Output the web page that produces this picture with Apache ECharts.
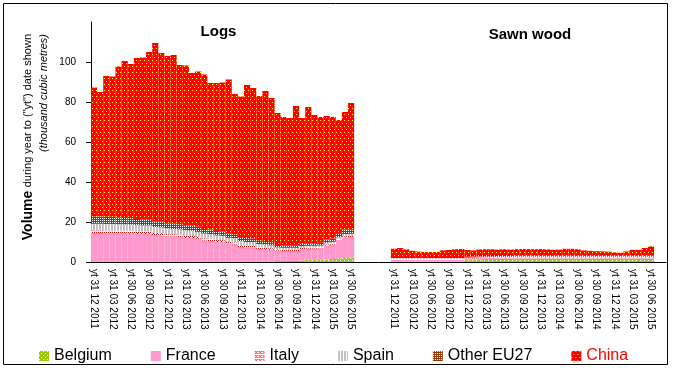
<!DOCTYPE html>
<html><head><meta charset="utf-8">
<script src="https://cdn.jsdelivr.net/npm/echarts@6/dist/echarts.min.js"></script>
<style>html,body{margin:0;padding:0;background:#fff}#c{width:673px;height:370px}</style>
</head><body><div id="c"></div>
<script>
// quarter tick labels (shown every 3rd month)
const tickLabels = ['31 12 2011','31 03 2012','30 06 2012','30 09 2012','31 12 2012','31 03 2013','30 06 2013','30 09 2013','31 12 2013','31 03 2014','30 06 2014','30 09 2014','31 12 2014','31 03 2015','30 06 2015'];
const seriesNames = ['Belgium','France','Italy','Spain','Other EU27','China'];

// Logs (thousand m3), monthly yt values Dec 2011 .. Jun 2015
const logsBelgium = [0.3,0.3,0.3,0.3,0.3,0.3,0.3,0.3,0.3,0.3, 0.3,0.3,0.3,0.3,0.3,0.3,0.3,0.3,0.3,0.3, 0.3,0.3,0.3,0.3,0.3,0.3,0.3,0.3,0.3,0.3, 0.5,0.5,0.5,0.5,0.8,1,1,1,1.2,1.5, 1.8,2,2.2];
const logsFrance = [14.2,14.2,14,14,14,14,14,13.8,13.8,13.8, 13.2,13,12.5,12.5,12.3,11.8,11.6,11.4,10.5,10.2, 9.8,9.6,8.8,8.5,7.2,7,7,6.2,6,5.8, 5.2,5,5,5,5.6,5.7,5.7,5.8,7,7.2, 9.2,10.3,10.3];
const logsItaly = [1.3,1.3,1.3,1.3,1.3,1.2,1.2,1.2,1.2,1.2, 1.2,1.2,1.1,1.1,1.1,1.1,1.1,1.0,1.0,1.0, 1.0,1.0,1.0,1.0,0.9,0.9,0.9,0.9,0.8,0.8, 0.6,0.6,0.6,0.6,0.6,0.6,0.6,0.6,0.6,0.6, 0.6,0.6,0.6];
const logsSpain = [3.3,3.3,3.3,3.3,3.2,3.2,3.2,3.2,3.0,3.0, 2.8,2.8,2.8,2.6,2.6,2.6,2.6,2.4,2.4,2.4, 2.2,2.2,2.0,2.0,2.0,1.8,1.8,1.6,1.6,1.4, 1.0,1.0,1.0,1.0,0.8,0.8,0.8,0.8,0.8,0.8, 0.8,1.0,1.0];
const logsOther = [3.7,3.7,3.7,3.7,3.3,3.3,3.3,3.0,3.0,3.0, 2.8,2.8,2.6,2.6,2.6,2.5,2.5,2.5,2.3,2.3, 2.2,2.2,2.2,2.0,2.0,2.0,1.8,1.8,1.8,1.6, 1.2,1.2,1.2,1.2,1.3,1.3,1.3,1.4,1.6,1.6, 2,2.3,2.3];
const logsChina = [64.4,62.2,70.4,70.1,75.7,78.5,77.0,80.5,81.0,83.7, 89.2,84.4,83.7,84.4,79.6,79.9,76.4,77.7,77.3,73.3, 74.0,74.4,77.0,70.2,70.4,76.5,75.2,72.2,75.0,72.1, 66.0,64.2,63.7,69.7,62.9,68.1,64.1,62.9,61.8,60.8, 56.6,58.8,63.1];

// Sawn wood (thousand m3)
const sawnBelgium = [0.3,0.3,0.3,0.3,0.3,0.3,0.3,0.3,0.3,0.3, 0.3,0.3,1.2,1.3,1.4,1.5,1.5,1.6,1.6,1.6, 1.7,1.7,1.7,1.7,1.7,1.7,1.7,1.7,1.7,1.7, 1.7,1.7,1.7,1.7,1.7,1.7,1.7,1.7,1.7,1.7, 1.7,1.7,1.7];
const sawnFrance = [0.8,0.8,0.8,0.8,0.8,0.8,0.8,0.8,0.8,0.8, 0.8,0.8,0.5,0.5,0.5,0.5,0.5,0.5,0.5,0.5, 0.5,0.5,0.5,0.5,0.5,0.5,0.5,0.5,0.5,0.5, 0.5,0.5,0.5,0.5,0.5,0.5,0.5,0.5,0.5,0.5, 0.5,0.5,0.5];
const sawnItaly = [0.3,0.3,0.3,0.3,0.3,0.3,0.3,0.3,0.3,0.3, 0.3,0.3,0.2,0.2,0.2,0.2,0.2,0.2,0.2,0.2, 0.2,0.2,0.2,0.2,0.2,0.2,0.2,0.2,0.2,0.2, 0.2,0.2,0.2,0.2,0.2,0.2,0.2,0.2,0.2,0.2, 0.2,0.2,0.2];
const sawnSpain = [0.6,0.6,0.6,0.6,0.6,0.6,0.6,0.6,0.6,0.6, 0.6,0.6,0.3,0.3,0.3,0.3,0.3,0.3,0.3,0.3, 0.3,0.3,0.3,0.3,0.3,0.3,0.3,0.3,0.3,0.3, 0.3,0.3,0.3,0.3,0.3,0.3,0.3,0.3,0.3,0.3, 0.3,0.3,0.3];
const sawnOther = [0.5,0.5,0.5,0.5,0.5,0.5,0.5,0.5,0.5,0.5, 0.5,0.5,0.4,0.4,0.4,0.4,0.4,0.4,0.4,0.4, 0.4,0.4,0.4,0.4,0.4,0.4,0.4,0.4,0.4,0.4, 0.4,0.4,0.4,0.4,0.4,0.4,0.4,0.4,0.4,0.4, 0.4,0.4,0.4];
const sawnChina = [4.1,4.5,3.8,3.1,2.7,2.5,2.5,2.5,3.3,3.5, 3.9,4.0,3.4,3.1,3.5,3.5,3.5,3.2,3.4,3.2, 3.3,3.4,3.4,3.3,3.4,3.2,3.0,3.1,3.5,3.5, 3.3,2.7,2.5,2.3,2.2,2.1,1.7,1.5,2.2,3.0, 3.0,3.9,4.7];

const GAP = 6, TAIL = 2;

// categories: logs months, gap, sawn months, tail
const cats = [], labelMap = {};
logsChina.forEach((_, i) => { const k = 'L' + i; cats.push(k); labelMap[k] = i % 3 === 0 ? 'yt ' + tickLabels[i / 3] : ''; });
for (let k = 0; k < GAP; k++) { cats.push('G' + k); labelMap['G' + k] = ''; }
sawnChina.forEach((_, i) => { const k = 'S' + i; cats.push(k); labelMap[k] = i % 3 === 0 ? 'yt ' + tickLabels[i / 3] : ''; });
for (let k = 0; k < TAIL; k++) { cats.push('T' + k); labelMap['T' + k] = ''; }

function join(a, b) { return a.concat(Array(GAP).fill('-'), b, Array(TAIL).fill('-')); }

function pat(w, h, bg, fg, pts) {
  const c = document.createElement('canvas'); c.width = w; c.height = h;
  const g = c.getContext('2d');
  g.fillStyle = bg; g.fillRect(0, 0, w, h);
  g.fillStyle = fg; pts.forEach(p => g.fillRect(p[0], p[1], 1, 1));
  return { image: c, repeat: 'repeat' };
}
const styles = [
  pat(4, 4, '#99CC00', '#FFFFFF', [[0,0],[2,2]]),
  '#FF99CC',
  pat(4, 4, '#FFFFFF', '#FF0000', [[0,0],[2,0],[1,1],[0,2],[2,2]]),
  pat(3, 1, '#C0C0C0', '#FFFFFF', [[2,0]]),
  pat(2, 2, '#993300', '#FFFFFF', [[0,0]]),
  pat(4, 6, '#FF0000', '#FFFF00', [[0,0],[2,3]])
];
const dataSets = [
  join(logsBelgium, sawnBelgium), join(logsFrance, sawnFrance), join(logsItaly, sawnItaly),
  join(logsSpain, sawnSpain), join(logsOther, sawnOther), join(logsChina, sawnChina)
];

const FONT = "'Liberation Sans', Arial, sans-serif";
const chart = echarts.init(document.getElementById('c'), null, { renderer: 'canvas' });
chart.setOption({
  animation: false,
  backgroundColor: '#fff',
  grid: { left: 91, top: 22, width: 575.3, height: 240, containLabel: false },
  xAxis: {
    type: 'category', data: cats, boundaryGap: true,
    axisLine: { lineStyle: { color: '#000', width: 1 } },
    axisTick: { interval: 0, length: 4, lineStyle: { color: '#000' } },
    axisLabel: { interval: 0, rotate: -90, margin: 7, fontSize: 10, fontFamily: FONT, color: '#000',
      formatter: v => labelMap[v] },
    splitLine: { show: false }
  },
  yAxis: {
    type: 'value', min: 0, max: 120, interval: 20,
    axisLine: { show: true, lineStyle: { color: '#000', width: 1 } },
    axisTick: { show: true, length: 5, lineStyle: { color: '#000' }, customValues: [0,20,40,60,80,100] },
    axisLabel: { margin: 15, fontSize: 10, fontFamily: FONT, color: '#000', customValues: [0,20,40,60,80,100] },
    splitLine: { show: false }
  },
  legend: {
    left: 34, top: 343, itemWidth: 10, itemHeight: 10, itemGap: 39, icon: 'rect',
    textStyle: { fontSize: 16, fontFamily: FONT, color: '#000' },
    data: seriesNames.map(n => n === 'China' ? { name: n, textStyle: { color: '#FF0000' } } : { name: n })
  },
  series: seriesNames.map((n, i) => ({
    name: n, type: 'bar', stack: 'all', barCategoryGap: '0%',
    itemStyle: { color: styles[i] }, emphasis: { disabled: true },
    data: dataSets[i]
  })),
  graphic: [
    { type: 'rect', shape: { x: 3.5, y: 3.5, width: 664, height: 361 }, style: { fill: 'none', stroke: '#000', lineWidth: 1 }, silent: true },
    { type: 'text', x: 218.5, y: 32, style: { text: 'Logs', font: "bold 15px 'Liberation Sans', Arial", fill: '#000', textAlign: 'center', textVerticalAlign: 'middle' } },
    { type: 'text', x: 530, y: 35, style: { text: 'Sawn wood', font: "bold 15px 'Liberation Sans', Arial", fill: '#000', textAlign: 'center', textVerticalAlign: 'middle' } },
    { type: 'text', x: 28, y: 34, rotation: Math.PI / 2,
      style: { text: '{b|Volume} {n|during year to ("yt") date shown}', textAlign: 'right', textVerticalAlign: 'middle', fill: '#000',
        rich: { b: { font: "bold 14px 'Liberation Sans', Arial", fill: '#000' }, n: { font: "11px 'Liberation Sans', Arial", fill: '#000' } } } },
    { type: 'text', x: 44, y: 34, rotation: Math.PI / 2,
      style: { text: '(thousand cubic metres)', font: "italic 11px 'Liberation Sans', Arial", fill: '#000', textAlign: 'right', textVerticalAlign: 'middle' } }
  ]
});
</script></body></html>
